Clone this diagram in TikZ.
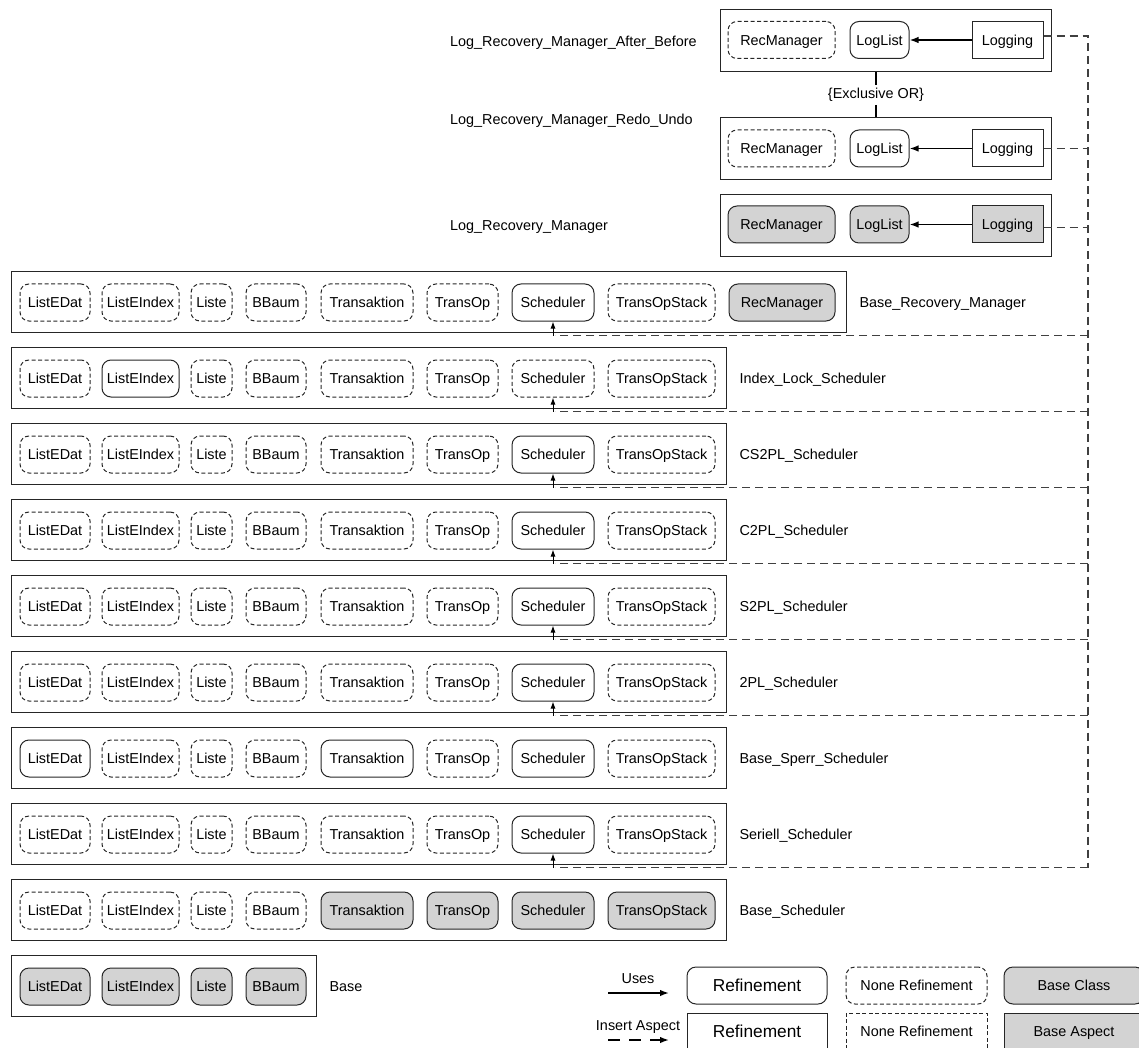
\documentclass[tikz,border=0pt]{standalone}
\usepackage{fontspec}
\setmainfont{Liberation Sans}
\usetikzlibrary{arrows.meta}
\definecolor{basegray}{RGB}{211,211,211}

% class lists used by the rows: text / centre x / width
\def\itemsA{ListEDat/55/70pt, ListEIndex/140.5/77pt, Liste/211.5/41pt, BBaum/276/60pt, Transaktion/367/92pt, TransOp/462.5/71pt, Scheduler/553/82pt, TransOpStack/661.5/107pt}
\def\itemsB{ListEDat/55/70pt, ListEIndex/140.5/77pt, Liste/211.5/41pt, BBaum/276/60pt, Transaktion/367/92pt, TransOp/462.5/71pt, Scheduler/553/82pt, TransOpStack/661.5/107pt, RecManager/782/106pt}
\def\itemsC{ListEDat/55/70pt, ListEIndex/140.5/77pt, Liste/211.5/41pt, BBaum/276/60pt}

% #1 name, #2 top, #3 width, #4 class list, #5 kind codes, #6 label
\newcommand\classrow[6]{%
  \node[container, minimum width=#3, minimum height=61pt] (#1) at (11,#2) {};
  \foreach \nm/\cx/\w [count=\k] in #4 {
    \pgfmathtruncatemacro\code{{#5}[\k-1]}
    \node[cls\code, minimum width=\w] (#1-\k) at (\cx,#2+31.5) {\nm};
  }
  \node[lbl] (#1-lbl) at ([xshift=12pt]#1.east) {#6};
}
% aspect insertion into the Scheduler of a row
\newcommand\hookrow[1]{%
  \coordinate (#1-j) at ([yshift=-14pt]#1-7.south);
  \draw[insert] (bus |- #1-j) -- ([xshift=2pt]#1-j);
  \draw[hook] (#1-j) -- (#1-7.south);
}

\begin{document}
\begin{tikzpicture}[x=1pt,y=-1pt,
  every node/.style={font=\fontsize{14.4}{17}\selectfont, inner sep=0pt,
    text height=10.3pt, text depth=0pt},
  cls/.style={draw=black!85, line width=1pt, minimum height=37pt, rounded corners=9pt},
  cls0/.style={cls, dash pattern=on 4pt off 2.5pt},
  cls1/.style={cls},
  cls2/.style={cls, fill=basegray},
  asp0/.style={cls0, sharp corners},
  asp1/.style={cls1, sharp corners},
  asp2/.style={cls2, sharp corners},
  container/.style={draw=black!85, line width=1.3pt, anchor=north west},
  lbl/.style={anchor=west},
  uses/.style={line width=1.5pt, -{Latex[length=9pt,width=6.5pt]}},
  insert/.style={line width=1.2pt, draw=black!75, dash pattern=on 8pt off 5pt},
  hook/.style={line width=1pt, -{Latex[length=7pt,width=5pt]}},
  bigtext/.style={font=\fontsize{17.3}{20}\selectfont, text height=12.4pt}
]
\useasboundingbox (0,0) rectangle (1139,1048);
\clip (0,0) rectangle (1139,1048);

% ---------- recovery manager variants ----------
\node[container, minimum width=331pt, minimum height=62pt] (lg1) at (720,9) {};
\node[cls0, minimum width=107pt] (lg1-rec) at (781.5,40) {RecManager};
\node[cls1, minimum width=59pt] (lg1-log) at (879.5,40) {LogList};
\node[asp1, minimum width=71pt] (lg1-lgg) at (1007.5,40) {Logging};
\draw[uses] (lg1-lgg) -- (lg1-log);
\node[lbl] (lg1-lbl) at (450,41) {Log\_Recovery\_Manager\_After\_Before};

\node[container, minimum width=331pt, minimum height=62pt] (lg2) at (720,117) {};
\node[cls0, minimum width=107pt] (lg2-rec) at (781.5,148.5) {RecManager};
\node[cls1, minimum width=59pt] (lg2-log) at (879.5,148.5) {LogList};
\node[asp1, minimum width=71pt] (lg2-lgg) at (1007.5,148.5) {Logging};
\draw[uses] (lg2-lgg) -- (lg2-log);
\node[lbl] (lg2-lbl) at (450,119) {Log\_Recovery\_Manager\_Redo\_Undo};

\node[container, minimum width=331pt, minimum height=62pt] (lg3) at (720,194) {};
\node[cls2, minimum width=107pt] (lg3-rec) at (781.5,224.5) {RecManager};
\node[cls2, minimum width=59pt] (lg3-log) at (879.5,224.5) {LogList};
\node[asp2, minimum width=71pt] (lg3-lgg) at (1007.5,224.5) {Logging};
\draw[uses] (lg3-lgg) -- (lg3-log);
\node[lbl] (lg3-lbl) at (450,225) {Log\_Recovery\_Manager};

\node[inner sep=3pt, text depth=3pt] (xor) at (876,95) {\{Exclusive OR\}};
\draw[line width=1.3pt] (xor.north) -- (xor.north |- lg1.south);
\draw[line width=1.3pt] (xor.south) -- (xor.south |- lg2.north);

% ---------- scheduler rows ----------
\classrow{brm}{271}{835pt}{\itemsB}{0,0,0,0,0,0,1,0,2}{Base\_Recovery\_Manager}
\classrow{ils}{347}{715pt}{\itemsA}{0,1,0,0,0,0,0,0}{Index\_Lock\_Scheduler}
\classrow{cstp}{423}{715pt}{\itemsA}{0,0,0,0,0,0,1,0}{CS2PL\_Scheduler}
\classrow{ctp}{499}{715pt}{\itemsA}{0,0,0,0,0,0,1,0}{C2PL\_Scheduler}
\classrow{stp}{575}{715pt}{\itemsA}{0,0,0,0,0,0,1,0}{S2PL\_Scheduler}
\classrow{tp}{651}{715pt}{\itemsA}{0,0,0,0,0,0,1,0}{2PL\_Scheduler}
\classrow{bss}{727}{715pt}{\itemsA}{1,0,0,0,1,0,1,0}{Base\_Sperr\_Scheduler}
\classrow{ser}{803}{715pt}{\itemsA}{0,0,0,0,0,0,1,0}{Seriell\_Scheduler}
\classrow{bs}{879}{715pt}{\itemsA}{0,0,0,0,2,2,2,2}{Base\_Scheduler}
\classrow{base}{955}{305pt}{\itemsC}{2,2,2,2}{Base}

% ---------- aspect insertion bus ----------
\coordinate (bus) at (1088,0);
\hookrow{brm}
\hookrow{ils}
\hookrow{cstp}
\hookrow{ctp}
\hookrow{stp}
\hookrow{tp}
\hookrow{ser}
\draw[insert] ([yshift=4pt]lg1-lgg.east) -- ([yshift=4pt]lg1-lgg.east -| bus) -- (bus |- ser-j);
\draw[insert] (lg2-lgg.east) -- (lg2-lgg.east -| bus);
\draw[insert] ([yshift=-3pt]lg3-lgg.east) -- ([yshift=-3pt]lg3-lgg.east -| bus);

% ---------- legend ----------
\node (usesl) at (638,978) {Uses};
\coordinate (u1) at (608,993);
\coordinate (u2) at (669,993);
\draw[uses] (u1) -- (u2);
\node (insl) at (638,1025) {Insert Aspect};
\coordinate (i1) at (608,1040);
\coordinate (i2) at (669,1040);
\draw[line width=1.5pt, dash pattern=on 12pt off 9pt, -{Latex[length=9pt,width=6.5pt]}] (i1) -- (i2);

\node[cls1, bigtext, minimum width=140pt] (lgR) at (757,985.5) {Refinement};
\node[asp1, bigtext, minimum width=140pt] (lgRA) at (757,1031.5) {Refinement};
\node[cls0, minimum width=141pt] (lgN) at (916.5,985.5) {None Refinement};
\node[asp0, minimum width=141pt] (lgNA) at (916.5,1031.5) {None Refinement};
\node[cls2, minimum width=140pt] (lgB) at (1074,985.5) {Base Class};
\node[asp2, minimum width=140pt] (lgBA) at (1074,1031.5) {Base Aspect};
\end{tikzpicture}
\end{document}
